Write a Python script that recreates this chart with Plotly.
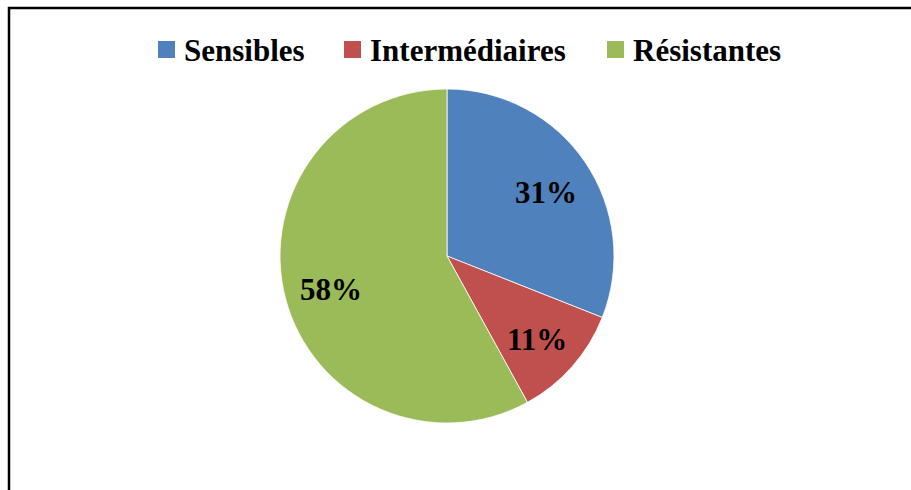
import math
import plotly.graph_objects as go

# Data
categories = ["Sensibles", "Intermédiaires", "Résistantes"]
values = [31, 11, 58]
colors = ["#4F81BD", "#C0504D", "#9BBB59"]

W, H = 911, 490
cx, cy, R = 447, 256, 167  # pie centre and radius in pixels

font_family = "Liberation Serif, Times New Roman, serif"
font_size = 31

fig = go.Figure(
    go.Pie(
        labels=categories,
        values=values,
        sort=False,
        direction="clockwise",
        rotation=0,
        marker=dict(colors=colors, line=dict(color="white", width=0.8)),
        textinfo="none",
        hoverinfo="label+percent",
        showlegend=False,
        domain=dict(x=[(cx - R) / W, (cx + R) / W], y=[1 - (cy + R) / H, 1 - (cy - R) / H]),
    )
)

# Percentage labels placed along each slice's mid-angle
total = sum(values)
cum = 0
annotations = []
for v in values:
    mid = (cum + v / 2) / total
    cum += v
    theta = 2 * math.pi * mid
    px = cx + 0.72 * R * math.sin(theta)
    py = cy - 0.72 * R * math.cos(theta)
    annotations.append(
        dict(
            x=px / W, y=1 - py / H, xref="paper", yref="paper",
            text=f"{round(100 * v / total)}%", showarrow=False,
            font=dict(family=font_family, size=font_size, color="black", weight="bold"),
            xanchor="center", yanchor="middle", yshift=-4,
        )
    )

# Legend row across the top: colour square followed by the category name
legend_left = [158, 344, 607]   # left edge of each legend square (px)
sq, sq_top = 17, 41             # square size and top edge (px)
shapes = []
for name, col, lx in zip(categories, colors, legend_left):
    shapes.append(
        dict(
            type="rect", xref="paper", yref="paper",
            x0=lx / W, x1=(lx + sq) / W, y0=1 - (sq_top + sq) / H, y1=1 - sq_top / H,
            line=dict(width=0), fillcolor=col,
        )
    )
    annotations.append(
        dict(
            x=(lx + sq + 7) / W, y=1 - (sq_top + sq / 2) / H, xref="paper", yref="paper",
            text=name, showarrow=False, xanchor="left", yanchor="middle", yshift=-1,
            font=dict(family=font_family, size=font_size, color="black", weight="bold"),
        )
    )

# Chart frame (left and top edges)
shapes.append(
    dict(
        type="rect", xref="paper", yref="paper",
        x0=9 / W, x1=1.2, y0=-0.2, y1=1 - 8 / H,
        line=dict(color="black", width=2.5), fillcolor="rgba(0,0,0,0)", layer="above",
    )
)

fig.update_layout(
    width=W, height=H,
    margin=dict(l=0, r=0, t=0, b=0),
    paper_bgcolor="white",
    plot_bgcolor="white",
    showlegend=False,
    annotations=annotations,
    shapes=shapes,
)

fig.write_html("out.html")
